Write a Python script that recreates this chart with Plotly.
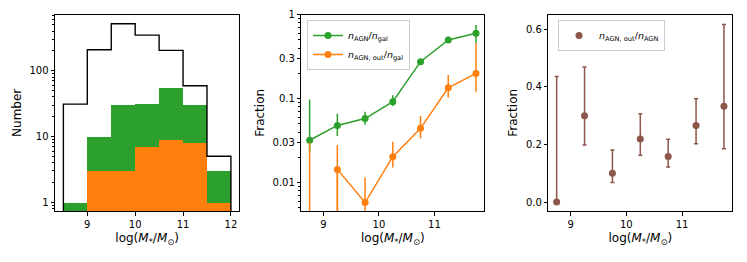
import numpy as np
import plotly.graph_objects as go

# ---------------- data ----------------
bin_edges = [8.5, 9.0, 9.5, 10.0, 10.5, 11.0, 11.5, 12.0]
bin_centers = [8.75, 9.25, 9.75, 10.25, 10.75, 11.25, 11.75]
n_gal = [31, 208, 517, 347, 203, 59, 5]
n_agn = [1, 10, 30, 32, 56, 30, 3]
n_agn_out = [0, 3, 3, 7, 9, 8, 1]

f_agn = [0.032, 0.048, 0.058, 0.092, 0.276, 0.50, 0.60]
f_agn_lo = [0.023, 0.036, 0.049, 0.082, 0.259, 0.464, 0.457]
f_agn_hi = [0.098, 0.066, 0.070, 0.110, 0.295, 0.547, 0.754]

f_out = [0.0, 0.0144, 0.0058, 0.0204, 0.0444, 0.135, 0.20]
f_out_lo = [0.0, 0.0, 0.0, 0.0152, 0.0337, 0.103, 0.121]
f_out_hi = [0.030, 0.028, 0.0115, 0.0308, 0.0622, 0.191, 0.457]

f_out_agn = [0.0, 0.30, 0.10, 0.219, 0.158, 0.266, 0.333]
f_out_agn_lo = [0.0, 0.198, 0.068, 0.163, 0.122, 0.203, 0.185]
f_out_agn_hi = [0.436, 0.469, 0.181, 0.307, 0.218, 0.359, 0.617]

GREEN = "#2ca02c"
ORANGE = "#ff7f0e"
BROWN = "#8c564b"
FONT = "DejaVu Sans"

W, H = 747, 262


def xdom(a, b):
    return [a / W, b / W]


YDOM = [1 - 211 / H, 1 - 14.7 / H]

fig = go.Figure()

# ---------------- panel 1: histograms ----------------
y1_range = [np.log10(0.736), np.log10(708)]
floor1 = 10 ** (y1_range[0] - 1)

fig.add_trace(go.Bar(x=bin_centers, y=n_agn, width=0.5, marker=dict(color=GREEN, line=dict(width=0)),
                     showlegend=False, xaxis="x", yaxis="y"))
fig.add_trace(go.Bar(x=bin_centers, y=n_agn_out, width=0.5, marker=dict(color=ORANGE, line=dict(width=0)),
                     showlegend=False, xaxis="x", yaxis="y"))
step_x = [bin_edges[0]] + bin_edges[:-1] + [bin_edges[-1]]
step_y = [floor1] + n_gal + [floor1]
fig.add_trace(go.Scatter(x=step_x, y=step_y, mode="lines", line=dict(color="black", width=1.4, shape="hv"),
                         showlegend=False, xaxis="x", yaxis="y"))

# ---------------- panel 2: fractions (log) ----------------
y2_range = [np.log10(0.0046), 0.0]
floor2 = 10 ** (y2_range[0] - 1)


def err_plus(v, hi):
    return [h - x for x, h in zip(v, hi)]


def err_minus(v, lo):
    return [x - l for x, l in zip(v, lo)]


fig.add_trace(go.Scatter(
    x=bin_centers, y=f_agn, mode="lines+markers",
    name="<i>n</i><sub>AGN</sub>/<i>n</i><sub>gal</sub>",
    line=dict(color=GREEN, width=1.5), marker=dict(color=GREEN, size=7),
    error_y=dict(type="data", symmetric=False, array=err_plus(f_agn, f_agn_hi),
                 arrayminus=err_minus(f_agn, f_agn_lo), color=GREEN, thickness=1.5, width=0),
    xaxis="x2", yaxis="y2", legend="legend"))
fig.add_trace(go.Scatter(
    x=bin_centers, y=f_out, mode="lines+markers",
    name="<i>n</i><sub>AGN, out</sub>/<i>n</i><sub>gal</sub>",
    line=dict(color=ORANGE, width=1.5), marker=dict(color=ORANGE, size=7),
    error_y=dict(type="data", symmetric=False, array=err_plus(f_out, f_out_hi),
                 arrayminus=err_minus(f_out, f_out_lo), color=ORANGE, thickness=1.5, width=0),
    xaxis="x2", yaxis="y2", legend="legend"))
# error bars of zero-valued points cannot be drawn on a log axis by the trace itself
for xv, yv, hv in zip(bin_centers, f_out, f_out_hi):
    if yv <= 0:
        fig.add_trace(go.Scatter(x=[xv, xv], y=[hv, floor2], mode="lines",
                                 line=dict(color=ORANGE, width=1.5), showlegend=False,
                                 hoverinfo="skip", xaxis="x2", yaxis="y2"))

# ---------------- panel 3: fraction (linear) ----------------
fig.add_trace(go.Scatter(
    x=bin_centers, y=f_out_agn, mode="markers",
    name="<i>n</i><sub>AGN, out</sub>/<i>n</i><sub>AGN</sub>",
    marker=dict(color=BROWN, size=7),
    error_y=dict(type="data", symmetric=False, array=err_plus(f_out_agn, f_out_agn_hi),
                 arrayminus=err_minus(f_out_agn, f_out_agn_lo), color=BROWN, thickness=1.5, width=2),
    xaxis="x3", yaxis="y3", legend="legend2"))

# ---------------- axes ----------------
common = dict(showline=True, linecolor="black", linewidth=1, mirror=True, ticks="outside",
              ticklen=3.5, tickwidth=1, tickcolor="black", showgrid=False, zeroline=False,
              automargin=False,
              tickfont=dict(family=FONT, size=10, color="black"))
xtitle = dict(text="log(<i>M</i><sub>*</sub>/<i>M</i><sub>⊙</sub>)",
              font=dict(family=FONT, size=12, color="black"), standoff=5)


def minor_log(lo_exp, hi_exp):
    vals = []
    for e in range(lo_exp, hi_exp):
        for m in range(2, 10):
            vals.append(m * 10.0 ** e)
    return vals


fig.update_layout(
    template="none",
    width=W, height=H, margin=dict(l=0, r=0, t=0, b=0, autoexpand=False),
    paper_bgcolor="white", plot_bgcolor="white",
    barmode="overlay", bargap=0,
    font=dict(family=FONT, size=10, color="black"),
    xaxis=dict(domain=xdom(55, 239.3), range=[8.325, 12.175], tickvals=[9, 10, 11, 12],
               title=xtitle, anchor="y", **common),
    yaxis=dict(domain=YDOM, type="log", range=y1_range, tickvals=[1, 10, 100], ticktext=["1", "10", "100"],
               minor=dict(ticks="outside", ticklen=2, tickwidth=0.8, tickcolor="black",
                          tickvals=minor_log(-1, 3)),
               title=dict(text="Number", font=dict(family=FONT, size=12, color="black"), standoff=5),
               anchor="x", **common),
    xaxis2=dict(domain=xdom(301.3, 484.3), range=[8.6, 11.9], tickvals=[9, 10, 11],
                title=xtitle, anchor="y2", **common),
    yaxis2=dict(domain=YDOM, type="log", range=y2_range,
                tickvals=[0.01, 0.03, 0.1, 0.3, 1], ticktext=["0.01", "0.03", "0.1", "0.3", "1"],
                minor=dict(ticks="outside", ticklen=2, tickwidth=0.8, tickcolor="black",
                           tickvals=minor_log(-3, 0)),
                title=dict(text="Fraction", font=dict(family=FONT, size=12, color="black"), standoff=5),
                anchor="x2", **common),
    xaxis3=dict(domain=xdom(548.3, 732.3), range=[8.6, 11.9], tickvals=[9, 10, 11],
                title=xtitle, anchor="y3", **common),
    yaxis3=dict(domain=YDOM, range=[-0.031, 0.651], tickvals=[0, 0.2, 0.4, 0.6],
                ticktext=["0.0", "0.2", "0.4", "0.6"],
                title=dict(text="Fraction", font=dict(family=FONT, size=12, color="black"), standoff=5),
                anchor="x3", **common),
    legend=dict(x=307 / W, y=1 - 20 / H, xanchor="left", yanchor="top", bgcolor="white",
                bordercolor="#cccccc", borderwidth=1, font=dict(family=FONT, size=9.5, color="black"),
                tracegroupgap=0),
    legend2=dict(x=558 / W, y=1 - 20 / H, xanchor="left", yanchor="top", bgcolor="white",
                 bordercolor="#cccccc", borderwidth=1, font=dict(family=FONT, size=9.5, color="black")),
)

fig.write_html("out.html", config={"displayModeBar": False},
               post_script="document.body.style.margin='0';document.body.style.overflow='hidden';")
